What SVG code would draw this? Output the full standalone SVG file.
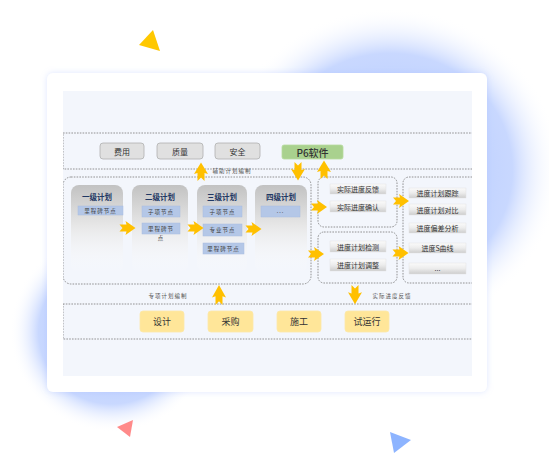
<svg xmlns="http://www.w3.org/2000/svg" xmlns:xlink="http://www.w3.org/1999/xlink" width="549" height="454" viewBox="0 0 549 454">
<style>
text{font-family:"Noto Sans CJK SC","Noto Sans",sans-serif;text-anchor:middle;dominant-baseline:central}
.dash{fill:none;stroke:#7a7a7a;stroke-width:0.8;stroke-dasharray:1.6 1.2}
.gray{fill:#e0e0e0;stroke:#b0b0b0;stroke-width:0.8}
.gt{font-size:8px;fill:#333}
.col{fill:url(#colg)}
.ct{font-size:7.5px;font-weight:bold;fill:#1f3864}
.blue{fill:#b4c7e7;stroke:#a9bde0;stroke-width:0.5}
.bt{font-size:5.5px;fill:#404040;letter-spacing:1px}
.item{fill:url(#itg);stroke:#e2e2e2;stroke-width:0.5}
.it{font-size:7px;fill:#333}
.yel{fill:#ffe699;stroke:#fde9a8;stroke-width:0.8}
.yt{font-size:9px;fill:#333}
.lbl{font-size:5.5px;fill:#555;letter-spacing:1px}
.arr{fill:#ffc000}
</style>
<defs>
<radialGradient id="glow1" cx="0.5" cy="0.5" r="0.5">
<stop offset="0" stop-color="#aec4ff" stop-opacity="1"/>
<stop offset="0.72" stop-color="#bfd1ff" stop-opacity="0.85"/>
<stop offset="1" stop-color="#ffffff" stop-opacity="0"/>
</radialGradient>
<linearGradient id="colg" x1="0" y1="0" x2="0" y2="1">
<stop offset="0" stop-color="#c2c2c2"/>
<stop offset="0.45" stop-color="#e6e6e6"/>
<stop offset="1" stop-color="#ffffff" stop-opacity="0"/>
</linearGradient>
<linearGradient id="itg" x1="0" y1="0" x2="0" y2="1">
<stop offset="0" stop-color="#fbfbfb"/>
<stop offset="0.5" stop-color="#ececec"/>
<stop offset="1" stop-color="#cdcdcd"/>
</linearGradient>
<filter id="shadow" x="-10%" y="-10%" width="120%" height="120%">
<feDropShadow dx="0" dy="0" stdDeviation="3" flood-color="#9fb6ff" flood-opacity="0.35"/>
</filter>
<clipPath id="panel"><rect x="63" y="91" width="409" height="285"/></clipPath>
<path id="a" d="M0,-3.5 L7,-3.5 L6,-7 L16,0 L6,7 L7,3.5 L0,3.5 L3,0 Z"/>
</defs>

<g id="background">
<ellipse cx="390" cy="170" rx="170" ry="162" fill="url(#glow1)"/>
<ellipse cx="112" cy="332" rx="102" ry="100" fill="url(#glow1)"/>
<polygon points="139,45 153,30 160,51" fill="#ffc800"/>
<polygon points="117,427 133,420 130,437" fill="#ff8a8a"/>
<polygon points="390,432 411,440 394,453" fill="#8db4ff"/>
<rect x="47" y="73" width="440" height="319" rx="6" fill="#ffffff" filter="url(#shadow)"/>
<rect x="63" y="91" width="409" height="285" fill="#f3f6fc"/>
</g>

<g clip-path="url(#panel)">
<g id="top-band">
<rect x="63" y="133" width="440" height="36" fill="#ffffff" class="dash"/>
</g>
<g id="middle-band">
<rect x="63" y="177" width="248" height="107" rx="8" fill="#ffffff" class="dash"/>
<rect x="318" y="177" width="79" height="50" rx="6" fill="#ffffff" class="dash"/>
<rect x="318" y="232" width="79" height="51" rx="6" fill="#ffffff" class="dash"/>
<rect x="403" y="177" width="90" height="106" rx="6" fill="#ffffff" class="dash"/>
</g>
<g id="bottom-band">
<rect x="63" y="304" width="440" height="35" fill="#ffffff" class="dash"/>
</g>
</g>

<g id="cost"><rect class="gray" x="100" y="143" width="44" height="16" rx="3"/><text class="gt" x="122" y="151">费用</text></g>
<g id="quality"><rect class="gray" x="157" y="143" width="46" height="16" rx="3"/><text class="gt" x="180" y="151">质量</text></g>
<g id="safety"><rect class="gray" x="215" y="143" width="45" height="16" rx="3"/><text class="gt" x="237.5" y="151">安全</text></g>
<g id="p6"><rect x="282" y="145" width="61" height="14" rx="2" fill="#a9d18e" stroke="#b8dca0" stroke-width="0.8"/><text x="312.5" y="152" style="font-size:10px;fill:#333;font-weight:500">P6软件</text></g>

<g id="plan1">
<rect class="col" x="71" y="185" width="52" height="88" rx="8"/>
<text class="ct" x="97" y="196">一级计划</text>
<rect class="blue" x="78" y="206" width="45" height="9"/><text class="bt" x="100.5" y="210.5">里程碑节点</text>
</g>
<g id="plan2">
<rect class="col" x="132" y="185" width="56" height="88" rx="8"/>
<text class="ct" x="160" y="196">二级计划</text>
<rect class="blue" x="142" y="206" width="38" height="11"/><text class="bt" x="161" y="211.5">子项节点</text>
<rect class="blue" x="142" y="223" width="38" height="11"/><text class="bt" x="161" y="228.5">里程碑节</text>
<text class="bt" x="161" y="238">点</text>
</g>
<g id="plan3">
<rect class="col" x="197" y="185" width="50" height="88" rx="8"/>
<text class="ct" x="222" y="196">三级计划</text>
<rect class="blue" x="203" y="206" width="39" height="11"/><text class="bt" x="222.5" y="211.5">子项节点</text>
<rect class="blue" x="203" y="224" width="39" height="12"/><text class="bt" x="222.5" y="230">专业节点</text>
<rect class="blue" x="203" y="243" width="41" height="11"/><text class="bt" x="223.5" y="248.5">里程碑节点</text>
</g>
<g id="plan4">
<rect class="col" x="255" y="185" width="52" height="88" rx="8"/>
<text class="ct" x="281" y="196">四级计划</text>
<rect class="blue" x="261" y="206" width="39" height="11"/><text class="bt" x="280.5" y="210.5">...</text>
</g>

<g id="actual-feedback"><rect class="item" x="330" y="184" width="56" height="10"/><text class="it" x="358" y="189">实际进度反馈</text></g>
<g id="actual-confirm"><rect class="item" x="330" y="201" width="56" height="11"/><text class="it" x="358" y="206.5">实际进度确认</text></g>
<g id="plan-check"><rect class="item" x="330" y="241" width="56" height="11"/><text class="it" x="358" y="246.5">进度计划检测</text></g>
<g id="plan-adjust"><rect class="item" x="330" y="259" width="56" height="12"/><text class="it" x="358" y="265">进度计划调整</text></g>
<g id="track"><rect class="item" x="409" y="188" width="57" height="10"/><text class="it" x="437.5" y="193">进度计划跟踪</text></g>
<g id="compare"><rect class="item" x="409" y="204" width="57" height="11"/><text class="it" x="437.5" y="209.5">进度计划对比</text></g>
<g id="deviation"><rect class="item" x="409" y="223" width="57" height="10"/><text class="it" x="437.5" y="228">进度偏差分析</text></g>
<g id="scurve"><rect class="item" x="409" y="243" width="57" height="10"/><text class="it" x="437.5" y="248">进度S曲线</text></g>
<g id="more"><rect class="item" x="409" y="263" width="57" height="11"/><text class="it" x="437.5" y="267.5">...</text></g>

<g id="design"><rect class="yel" x="140" y="311" width="44" height="21" rx="3"/><text class="yt" x="162" y="321.5">设计</text></g>
<g id="procure"><rect class="yel" x="208" y="311" width="45" height="21" rx="3"/><text class="yt" x="230.5" y="321.5">采购</text></g>
<g id="construct"><rect class="yel" x="277" y="311" width="44" height="21" rx="3"/><text class="yt" x="299" y="321.5">施工</text></g>
<g id="commission"><rect class="yel" x="345" y="311" width="44" height="21" rx="3"/><text class="yt" x="367" y="321.5">试运行</text></g>

<g id="connectors">
<use href="#a" class="arr" transform="translate(119.5,228)"/>
<use href="#a" class="arr" transform="translate(187.5,228)"/>
<use href="#a" class="arr" transform="translate(245.5,229)"/>
<use href="#a" class="arr" transform="translate(311,207)"/>
<use href="#a" class="arr" transform="translate(308,254)"/>
<use href="#a" class="arr" transform="translate(393,201)"/>
<use href="#a" class="arr" transform="translate(392.5,253)"/>
<use href="#a" class="arr" transform="translate(201,181) rotate(-90) scale(1.15,1)"/>
<use href="#a" class="arr" transform="translate(298,162) rotate(90) scale(1.15,1)"/>
<use href="#a" class="arr" transform="translate(324,179) rotate(-90) scale(1.15,1)"/>
<use href="#a" class="arr" transform="translate(219,305) rotate(-90) scale(1.25,1)"/>
<use href="#a" class="arr" transform="translate(355,285) rotate(90) scale(1.2,1)"/>
<text class="lbl" x="232" y="171">辅助计划编制</text>
<text class="lbl" x="168" y="296">专项计划编制</text>
<text class="lbl" x="392" y="296">实际进度反馈</text>
</g>
</svg>
